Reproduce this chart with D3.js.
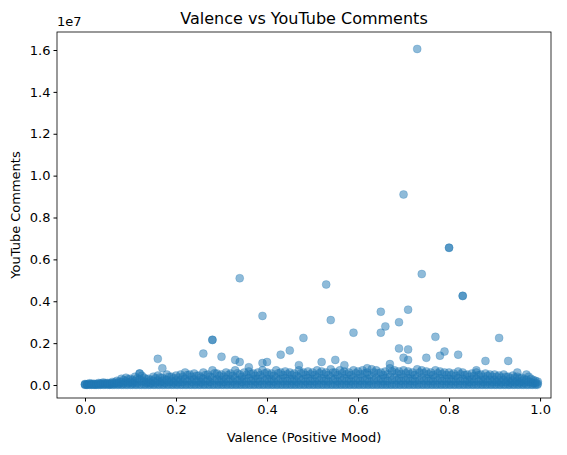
<!DOCTYPE html>
<html><head><meta charset="utf-8">
<script src="https://cdn.jsdelivr.net/npm/d3@7"></script>
<style>body{margin:0;background:#fff}text{font-family:"DejaVu Sans",sans-serif}</style>
</head><body><svg id="c" width="567" height="455"></svg>
<script>
// outliers: [valence, comments in millions]
const outliers = [[0.73,16.05],[0.70,9.1],[0.80,6.55],[0.80,6.56],[0.83,4.25],[0.83,4.26],[0.74,5.3],[0.34,5.1],[0.53,4.8],[0.39,3.3],[0.54,3.1],[0.48,2.25],[0.59,2.5],[0.28,2.15],[0.28,2.16],[0.65,3.5],[0.66,2.8],[0.65,2.5],[0.69,3.0],[0.71,3.6],[0.69,1.75],[0.71,1.7],[0.77,2.3],[0.91,2.25],[0.78,1.4],[0.79,1.6],[0.82,1.45],[0.88,1.15],[0.93,1.15],[0.16,1.25],[0.17,0.8],[0.26,1.5],[0.30,1.35],[0.33,1.2],[0.34,1.1],[0.43,1.45],[0.45,1.65],[0.39,1.05],[0.40,1.1],[0.52,1.1],[0.55,1.2],[0.57,0.95],[0.70,1.3],[0.71,1.2],[0.75,1.3],[0.67,1.0],[0.62,0.8],[0.47,0.95],[0.36,0.85],[0.86,0.7],[0.95,0.6],[0.12,0.55]];
const bandX = d3.range(100).map(i=>i/100);
const bandTop = [.05,.08,.06,.1,.12,.1,.15,.2,.3,.35, .3,.4,.55,.35,.3,.4,.45,.35,.5,.4, .45,.5,.6,.5,.55,.45,.6,.5,.7,.55, .5,.6,.55,.7,.5,.6,.65,.55,.6,.7, .6,.55,.7,.6,.65,.6,.55,.7,.6,.65, .6,.7,.65,.6,.75,.6,.7,.65,.6,.7, .65,.7,.6,.75,.7,.6,.65,.8,.7,.65, .7,.65,.6,.75,.7,.65,.6,.7,.65,.6, .6,.55,.65,.6,.5,.55,.6,.5,.55,.5, .5,.45,.5,.4,.45,.4,.35,.5,.3,.2];
const bandMid = [.02,.04,.03,.05,.06,.05,.08,.1,.15,.18, .15,.2,.28,.18,.15,.2,.22,.18,.25,.2, .22,.25,.3,.25,.28,.22,.3,.25,.35,.28, .25,.3,.28,.35,.25,.3,.32,.28,.3,.35, .3,.28,.35,.3,.32,.3,.28,.35,.3,.32, .3,.35,.32,.3,.38,.3,.35,.32,.3,.35, .32,.35,.3,.38,.35,.3,.32,.4,.35,.32, .35,.32,.3,.38,.35,.32,.3,.35,.32,.3, .3,.28,.32,.3,.25,.28,.3,.25,.28,.25, .25,.22,.25,.2,.22,.2,.18,.25,.15,.1];
const bandLow = bandX.map(()=>0.01);
const xTicks=[0,0.2,0.4,0.6,0.8,1.0], yTicks=[0,2,4,6,8,10,12,14,16];

const svg=d3.select("#c");
const L=57,R=551,T=32,B=398;
const x=d3.scaleLinear().domain([-0.0615,1.024]).range([L,R]);
const y=d3.scaleLinear().domain([-0.62,16.86]).range([B,T]);
const pts=[];
bandX.forEach((v,i)=>{pts.push([v,bandLow[i]],[v+0.004,bandLow[i]],[v,bandMid[i]],[v,bandTop[i]],[v+0.005,bandMid[i]*0.6],[v+0.005,bandTop[i]*0.8]);});
outliers.forEach(p=>pts.push(p));
svg.append("g").selectAll("circle").data(pts).join("circle")
 .attr("cx",d=>x(d[0])).attr("cy",d=>y(d[1])).attr("r",4)
 .attr("fill","#1f77b4").attr("fill-opacity",0.5).attr("stroke","#1f77b4").attr("stroke-opacity",0.5).attr("stroke-width",0.5);
svg.append("g").attr("transform",`translate(0,${B})`).call(d3.axisBottom(x).tickValues(xTicks).tickFormat(d3.format(".1f")).tickSize(3.5).tickPadding(3))
 .call(g=>{g.select(".domain").remove();g.selectAll("text").style("font-size","13px").attr("fill","#000");});
svg.append("g").attr("transform",`translate(${L},0)`).call(d3.axisLeft(y).tickValues(yTicks).tickFormat(d=>d3.format(".1f")(d/10)).tickSize(3.5).tickPadding(3))
 .call(g=>{g.select(".domain").remove();g.selectAll("text").style("font-size","13px").attr("fill","#000");});
svg.append("rect").attr("x",L).attr("y",T).attr("width",R-L).attr("height",B-T).attr("fill","none").attr("stroke","#000").attr("stroke-width",0.8);
svg.append("text").attr("x",L).attr("y",T-6).style("font-size","13px").text("1e7");
svg.append("text").attr("x",(L+R)/2).attr("y",24).attr("text-anchor","middle").style("font-size","16px").text("Valence vs YouTube Comments");
svg.append("text").attr("x",(L+R)/2).attr("y",442).attr("text-anchor","middle").style("font-size","13px").text("Valence (Positive Mood)");
svg.append("text").attr("transform",`translate(20,${(T+B)/2}) rotate(-90)`).attr("text-anchor","middle").style("font-size","13px").text("YouTube Comments");
</script></body></html>
